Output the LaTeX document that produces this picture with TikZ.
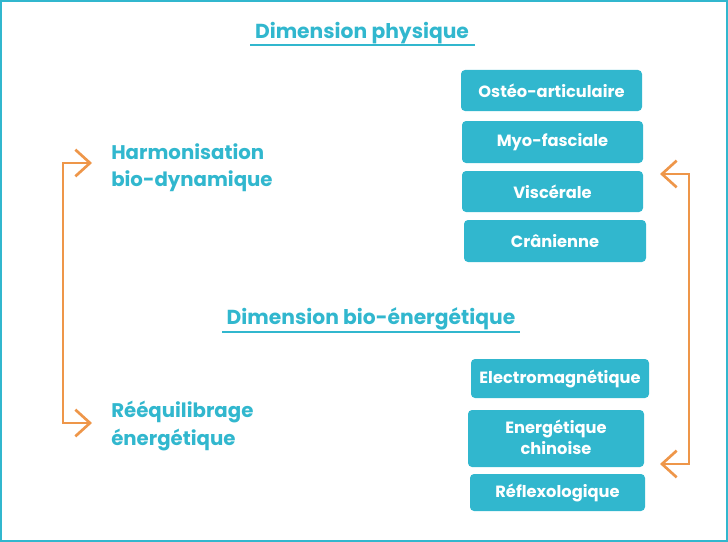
\documentclass[tikz,border=0pt]{standalone}
\usepackage{fontspec}
\setmainfont{Poppins}
\usetikzlibrary{arrows.meta}
\definecolor{teal}{HTML}{31B7CE}
\definecolor{orng}{HTML}{EE9649}
\tikzset{
  box/.style={fill=teal, rounded corners=3pt, text=white, font=\bfseries\fontsize{12.2}{16}\selectfont, align=center, inner sep=0pt},
  heading/.style={text=teal, font=\bfseries\fontsize{15.2}{17}\selectfont},
  label/.style={text=teal, font=\bfseries\fontsize{14.8}{20.5}\selectfont, align=left, anchor=north west, inner sep=0pt},
  ul/.style={draw=teal, line width=0.9pt},
  brk/.style={draw=orng, line width=2pt, -{Straight Barb[length=11pt,width=20pt,line width=2pt]}}
}
\begin{document}
\begin{tikzpicture}[x=0.75pt,y=-0.75pt]
\useasboundingbox (0,0) rectangle (728,542);
\draw[teal, line width=3pt] (0,0) rectangle (728,542);
% headings
\node[heading] (h1) at (362,33) {Dimension physique};
\draw[ul] (250,45) -- (475,45);
\node[heading] (h2) at (371,319) {Dimension bio-énergétique};
\draw[ul] (222,332) -- (520,332);
% boxes
\path[box] (461,70) rectangle (642,111);
\node[box] (b1) at (551.5,90.5) {Ostéo-articulaire};
\path[box] (462,121) rectangle (643,163);
\node[box] (b2) at (552.5,142) {Myo-fasciale};
\path[box] (462,171) rectangle (643,212);
\node[box] (b3) at (552.5,191.5) {Viscérale};
\path[box] (464,220) rectangle (646,262);
\node[box] (b4) at (555,241) {Crânienne};
\path[box] (471,359) rectangle (649,398);
\node[box] (b5) at (560,378.5) {Electromagnétique};
\path[box] (468,410) rectangle (644,467);
\node[box] (b6) at (556,437.5) {Energétique\\chinoise};
\path[box] (470,474) rectangle (645,511);
\node[box] (b7) at (557.5,492.5) {Réflexologique};
% left labels
\node[label] (l1) at (111,143) {Harmonisation\\bio-dynamique};
\node[label] (l2) at (111,401) {Rééquilibrage\\énergétique};
% brackets
\coordinate (la) at (63,163);
\coordinate (lb) at (63,423);
\coordinate (lat) at (92,163);
\coordinate (lbt) at (92,423);
\draw[brk] (lb) -- (la) -- (lat);
\draw[brk] (la) -- (lb) -- (lbt);
\coordinate (ra) at (689,174);
\coordinate (rb) at (689,464);
\coordinate (rat) at (660,174);
\coordinate (rbt) at (660,464);
\draw[brk] (rb) -- (ra) -- (rat);
\draw[brk] (ra) -- (rb) -- (rbt);
\end{tikzpicture}
\end{document}
